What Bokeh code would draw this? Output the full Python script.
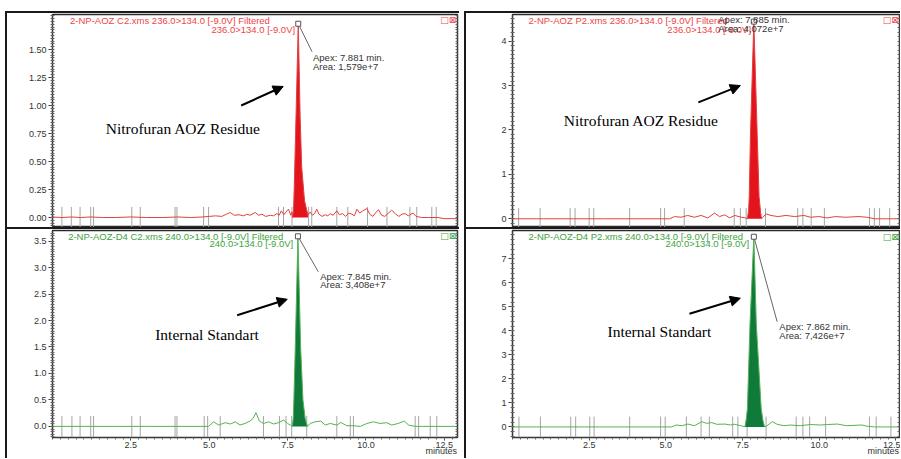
import numpy as np
from bokeh.plotting import figure
from bokeh.models import (Range1d, FixedTicker, PrintfTickFormatter, LinearAxis,
                          Label, Arrow, NormalHead, Spacer)
from bokeh.layouts import row, column
from bokeh.embed import file_html
from bokeh.resources import INLINE

# ---------------- data ----------------
# Top-left: 2-NP-AOZ C2 (236.0>134.0), MCounts vs minutes
TL_t = [0.0, 0.3, 0.6, 0.9, 1.2, 1.6, 2.0, 2.5, 3.0, 3.5, 4.0, 4.4, 4.8, 5.0, 5.2, 5.4, 5.55, 5.67, 5.8, 5.95,
        6.1, 6.2, 6.3, 6.4, 6.47, 6.58, 6.68, 6.8, 6.95, 7.05, 7.16, 7.23, 7.3, 7.38, 7.45, 7.53, 7.6, 7.64,
        7.66, 7.69, 7.71, 7.755, 7.84, 7.90, 7.95, 8.04, 8.15,
        8.22, 8.3, 8.37, 8.43, 8.5, 8.6, 8.7, 8.78, 8.86, 8.95, 9.07, 9.15, 9.25, 9.35, 9.45, 9.55, 9.63, 9.71,
        9.8, 9.9, 10.03, 10.12, 10.22, 10.3, 10.4, 10.5, 10.6, 10.7, 10.82, 10.95, 11.05, 11.15, 11.25, 11.35,
        11.5, 11.6, 11.78, 12.0, 12.3, 12.5, 12.95]
TL_v = [0.005, 0.0, 0.005, 0.0, 0.005, 0.0, 0.0, 0.005, 0.0, 0.0, 0.005, 0.0, 0.005, 0.01, 0.015, 0.01, 0.03, 0.045, 0.02, 0.025,
        0.015, 0.03, 0.02, 0.035, 0.045, 0.02, 0.03, 0.01, 0.02, 0.015, 0.035, 0.02, 0.06, 0.025, 0.05, 0.075, 0.02, 0.05,
        0.0, 0.07, 0.25, 0.75, 1.73, 0.9, 0.45, 0.15, 0.02,
        0.05, 0.02, 0.04, 0.075, 0.03, 0.01, 0.025, 0.015, 0.035, 0.02, 0.06, 0.025, 0.035, 0.01, 0.04, 0.03, 0.015, 0.075,
        0.04, 0.06, 0.08, 0.03, 0.01, 0.04, 0.07, 0.02, 0.01, 0.035, 0.065, 0.03, 0.01, 0.03, 0.035, 0.015,
        0.04, 0.01, 0.0, 0.0, 0.0, -0.01, -0.01]
TL_peak = (7.66, 8.15)
TL_marks = [0.30, 0.60, 0.88, 1.22, 1.31, 2.53, 2.80, 3.91, 3.97, 4.82, 4.98, 7.21, 7.37, 7.64, 8.17, 8.27,
            9.07, 9.42, 10.05, 10.67, 11.4, 11.62, 12.1, 12.24]

# Bottom-left: 2-NP-AOZ-D4 C2 (240.0>134.0)
BL_t = [0.0, 1.0, 2.0, 3.0, 4.0, 4.98, 5.14, 5.3, 5.51, 5.67, 5.83, 5.98, 6.14, 6.3, 6.4, 6.49, 6.6, 6.73, 6.9, 7.05,
        7.21, 7.37, 7.5, 7.6,
        7.65, 7.68, 7.70, 7.745, 7.83, 7.915, 7.99, 8.06, 8.13,
        8.22, 8.38, 8.56, 8.7, 8.86, 9.07, 9.2, 9.39, 9.6, 9.82, 10.03, 10.24, 10.45, 10.66, 10.82, 11.03, 11.22,
        11.36, 11.57, 11.8, 12.2, 12.95]
BL_v = [0.0, 0.0, 0.0, 0.0, 0.0, 0.0, 0.086, 0.025, 0.07, 0.045, 0.086, 0.025, 0.055, 0.1, 0.15, 0.26, 0.1, 0.055, 0.086, 0.045,
        0.07, 0.12, 0.055, 0.02,
        0.0, 0.15, 0.5, 1.5, 3.59, 1.5, 0.5, 0.15, 0.0,
        0.055, 0.086, 0.1, 0.025, 0.055, 0.025, 0.074, 0.012, 0.012, 0.0, 0.055, 0.086, 0.055, 0.07, 0.025, 0.055, 0.1,
        0.025, 0.0, 0.0, 0.0, 0.0]
BL_peak = (7.65, 8.13)
BL_marks = [0.30, 0.62, 0.88, 1.22, 1.31, 2.53, 2.80, 3.91, 3.97, 4.84, 4.95, 5.35, 6.73, 7.24, 7.45, 7.63,
            8.11, 9.07, 9.50, 9.60, 11.57, 11.68, 12.05, 12.26]

# Top-right: 2-NP-AOZ P2 (236.0>134.0)
TR_t = [0.0, 1.0, 2.0, 3.0, 4.0, 5.12, 5.28, 5.5, 5.71, 5.93, 6.15, 6.37, 6.59, 6.75, 6.92, 7.08, 7.25, 7.46, 7.6,
        7.66, 7.70, 7.72, 7.76, 7.87, 7.98, 8.04, 8.09, 8.12,
        8.27, 8.43, 8.65, 8.92, 9.2, 9.5, 9.72, 9.99, 10.26, 10.53, 10.86, 11.3, 11.55, 11.8, 12.2, 12.7]
TR_v = [0.0, 0.0, 0.0, 0.0, 0.0, 0.0, 0.05, 0.035, 0.075, 0.035, 0.075, 0.02, 0.13, 0.05, 0.09, 0.02, 0.075, 0.035, 0.02,
        0.0, 0.2, 0.5, 1.9, 4.44, 1.9, 0.5, 0.15, 0.0,
        0.11, 0.075, 0.05, 0.075, 0.05, 0.075, 0.035, 0.05, 0.02, 0.05, 0.035, 0.05, 0.035, 0.0, 0.0, 0.0]
TR_peak = (7.66, 8.12)
TR_marks = [0.2, 0.9, 1.88, 2.04, 2.5, 2.65, 3.82, 4.83, 4.96, 5.6, 7.23, 7.43, 7.62, 8.25, 9.3, 9.47, 9.74,
            10.17, 11.64, 11.8, 11.97, 12.3]

# Bottom-right: 2-NP-AOZ-D4 P2 (240.0>134.0)
BR_t = [0.0, 1.0, 2.0, 3.0, 4.0, 5.18, 5.34, 5.53, 5.72, 5.93, 6.18, 6.32, 6.5, 6.66, 6.93, 7.1, 7.24, 7.45, 7.55,
        7.58, 7.62, 7.66, 7.745, 7.87, 7.95, 8.11, 8.17, 8.22,
        8.3, 8.47, 8.63, 8.85, 9.06, 9.38, 9.71, 10.04, 10.26, 10.59, 10.9, 11.4, 11.56, 11.8, 12.2, 12.7]
BR_v = [0.0, 0.0, 0.0, 0.0, 0.0, 0.0, 0.08, 0.05, 0.12, 0.05, 0.22, 0.15, 0.18, 0.11, 0.12, 0.08, 0.11, 0.05, 0.02,
        0.0, 0.3, 0.76, 4.3, 7.92, 4.3, 0.76, 0.25, 0.0,
        0.05, 0.22, 0.11, 0.05, 0.08, 0.05, 0.1, 0.08, 0.1, 0.12, 0.05, 0.08, 0.03, 0.0, 0.0, 0.0]
BR_peak = (7.58, 8.22)
BR_marks = [0.21, 0.91, 1.90, 2.06, 2.52, 2.66, 3.82, 4.83, 4.98, 5.67, 6.15, 6.42, 7.18, 7.35, 7.65, 8.27,
            9.25, 9.47, 9.69, 10.21, 11.64, 11.86, 12.34]

TL_ticks = [0.0, 0.25, 0.5, 0.75, 1.0, 1.25, 1.5]
BL_ticks = [0.0, 0.5, 1.0, 1.5, 2.0, 2.5, 3.0, 3.5]
TR_ticks = [0, 1, 2, 3, 4]
BR_ticks = [0, 1, 2, 3, 4, 5, 6, 7]
X_ticks = [2.5, 5.0, 7.5, 10.0, 12.5]

TL_title = ["2-NP-AOZ C2.xms 236.0>134.0 [-9.0V] Filtered", "236.0>134.0 [-9.0V]"]
BL_title = ["2-NP-AOZ-D4 C2.xms 240.0>134.0 [-9.0V] Filtered", "240.0>134.0 [-9.0V]"]
TR_title = ["2-NP-AOZ P2.xms 236.0>134.0 [-9.0V] Filtered", "236.0>134.0 [-9.0V]"]
BR_title = ["2-NP-AOZ-D4 P2.xms 240.0>134.0 [-9.0V] Filtered", "240.0>134.0 [-9.0V]"]
TL_apex = ["Apex: 7.881 min.", "Area: 1,579e+7"]
TR_apex = ["Apex: 7.885 min.", "Area: 4,072e+7"]
BL_apex = ["Apex: 7.845 min.", "Area: 3,408e+7"]
BR_apex = ["Apex: 7.862 min.", "Area: 7,426e+7"]
X_label = "minutes"

SANS = "Liberation Sans"
SERIF = "Liberation Serif"
RED = dict(line="#e2403f", fill="#e3141c", text="#ee4549", chip="\u25a1")
GREEN = dict(line="#55b155", fill="#0f7a3a", text="#3ea33e", chip="\u25a0")
DARK = "#333333"


def style_axis(ax):
    ax.axis_line_color = "#3a3a3a"
    ax.major_tick_line_color = "#3a3a3a"
    ax.minor_tick_line_color = "#666666"
    ax.major_label_text_font = SANS
    ax.major_label_text_font_size = "9px"
    ax.major_label_text_color = DARK


def label(p, x, y, text, color=DARK, size="9.5px", font=SANS, align="left", baseline="middle"):
    p.add_layout(Label(x=x, y=y, text=text, text_color=color, text_font_size=size, text_font=font,
                       text_align=align, text_baseline=baseline))


def panel(width, height, x_end, y_rng, ticks, fmt, minor_step, mbl, mbr, mbt, mbb, bottom_axis,
          t, v, peak, marks, col):
    p = figure(width=width, height=height, x_range=Range1d(0, x_end), y_range=Range1d(*y_rng),
               output_backend="svg", toolbar_location=None,
               x_axis_location="below" if bottom_axis else None,
               min_border_left=mbl, min_border_right=mbr, min_border_top=mbt, min_border_bottom=mbb)
    p.grid.visible = False
    p.outline_line_color = "#2a2a2a"
    p.outline_line_width = 1.5
    p.background_fill_color = "white"
    p.border_fill_color = "white"

    minors = list(np.arange(0.0, y_rng[1], minor_step)) + list(-np.arange(minor_step, -y_rng[0], minor_step))
    ya = p.yaxis[0]
    ya.ticker = FixedTicker(ticks=ticks, minor_ticks=minors)
    ya.formatter = PrintfTickFormatter(format=fmt)
    style_axis(ya)
    ya.major_tick_out = 4
    ya.major_tick_in = 0
    ya.minor_tick_out = 2
    ya.minor_tick_in = 2
    ya.major_label_standoff = 2

    # right-hand ruler: minor ticks only, no labels
    ra = LinearAxis(ticker=FixedTicker(ticks=[], minor_ticks=minors), major_label_standoff=0,
                    major_tick_in=0, major_tick_out=0, minor_tick_in=2, minor_tick_out=0)
    style_axis(ra)
    p.add_layout(ra, "right")

    if bottom_axis:
        xa = p.xaxis[0]
        xa.ticker = FixedTicker(ticks=X_ticks, minor_ticks=list(np.arange(0.0, 13.0, 0.25)))
        xa.formatter = PrintfTickFormatter(format="%.1f")
        style_axis(xa)
        xa.major_tick_out = 3
        xa.major_tick_in = 0
        xa.minor_tick_out = 2
        xa.minor_tick_in = 0
        xa.major_label_standoff = 1
        # label is centred on the axis end; trailing no-break spaces move the word inside
        xa.axis_label = X_label + "\u00a0" * 13
        xa.axis_label_text_font = SANS
        xa.axis_label_text_font_size = "9px"
        xa.axis_label_text_font_style = "normal"
        xa.axis_label_text_color = DARK
        xa.axis_label_standoff = -5
        xa.axis_label_align = "end"

    span = y_rng[1] - y_rng[0]
    p.segment(x0=marks, y0=[y_rng[0]] * len(marks), x1=marks, y1=[0.05 * span] * len(marks),
              line_color="#a5a5a5", line_width=1)

    ta = np.array(t)
    va = np.array(v)
    sel = (ta >= peak[0]) & (ta <= peak[1])
    p.varea(x=ta[sel], y1=np.zeros(sel.sum()), y2=va[sel], fill_color=col["fill"])
    p.line(ta, va, line_color=col["line"], line_width=1)
    return p, ta, va


def decorate(p, ta, va, col, title, tpos, apex, apos, leader, big, bpos, arrow, mc, icon_x, chip):
    label(p, tpos[0], tpos[1], title[0], color=col["text"])
    label(p, tpos[2], tpos[3], title[1], color=col["text"], align="right")
    i = int(np.argmax(va))
    if leader is not None:
        p.line([ta[i], leader[0]], [va[i], leader[1]], line_color="#666666", line_width=1)
    p.scatter([ta[i]], [va[i]], marker="square", size=5, fill_color="white", line_color="#555555")
    label(p, apos[0], apos[1], apex[0])
    label(p, apos[0], apos[2], apex[1])
    label(p, bpos[0], bpos[1], big, color="black", size="15.5px", font=SERIF, align="center")
    p.add_layout(Arrow(end=NormalHead(size=10, fill_color="black", line_color="black"),
                       x_start=arrow[0], y_start=arrow[1], x_end=arrow[2], y_end=arrow[3],
                       line_color="black", line_width=2))
    label(p, mc[0], mc[1], "MCounts", align="right")
    label(p, icon_x, mc[1], "\u25a1\u22a0", color=col["text"], size="9px", font="DejaVu Sans", align="right")
    label(p, chip[0], chip[1], col["chip"], color=col["fill"], size="10px", font="DejaVu Sans", align="left")


# ---- panels ----
tl, ta, va = panel(452, 214, 12.92, (-0.089, 1.8125), TL_ticks, "%.2f", 0.025, 45, 2, 1, 0, False,
                   TL_t, TL_v, TL_peak, TL_marks, RED)
decorate(tl, ta, va, RED, TL_title, (0.56, 1.76, 7.74, 1.68), TL_apex, (8.31, 1.43, 1.35), (8.28, 1.48),
         "Nitrofuran AOZ Residue", (4.17, 0.795), (6.02, 1.0, 7.36, 1.17), (-0.1, 1.76), 12.88, (-1.42, 0.86))

bl, ta, va = panel(452, 229, 12.92, (-0.21, 3.70), BL_ticks, "%.1f", 0.05, 45, 2, 1, 17, True,
                   BL_t, BL_v, BL_peak, BL_marks, GREEN)
decorate(bl, ta, va, GREEN, BL_title, (0.5, 3.585, 7.68, 3.45), BL_apex, (8.54, 2.84, 2.68), (8.48, 2.92),
         "Internal Standart", (4.93, 1.735), (5.89, 2.10, 7.49, 2.40), (-0.1, 3.60), 12.88, (-1.42, 1.79))

tr, ta, va = panel(434, 214, 12.62, (-0.196, 4.60), TR_ticks, "%d", 0.1, 46, 1, 1, 0, False,
                   TR_t, TR_v, TR_peak, TR_marks, RED)
decorate(tr, ta, va, RED, TR_title, (0.52, 4.47, 7.78, 4.27), TR_apex, (6.71, 4.49, 4.29), None,
         "Nitrofuran AOZ Residue", (4.2, 2.21), (6.06, 2.62, 7.43, 3.0), (-0.07, 4.47), 12.6, (-1.42, 2.19))

br, ta, va = panel(434, 229, 12.62, (-0.44, 8.18), BR_ticks, "%d", 0.2, 46, 1, 1, 17, True,
                   BR_t, BR_v, BR_peak, BR_marks, GREEN)
decorate(br, ta, va, GREEN, BR_title, (0.52, 7.93, 7.72, 7.64), BR_apex, (8.7, 4.18, 3.81), (8.63, 4.38),
         "Internal Standart", (4.79, 3.97), (5.77, 4.71, 7.43, 5.36), (-0.07, 7.89), 12.6, (-1.42, 3.97))

BAR = {"background-color": "#1a1a1a"}


def block(top, bottom, w, lead):
    return row(
        Spacer(width=lead, height=458),
        column(
            Spacer(width=w + 2, height=11),
            Spacer(width=w + 2, height=2, styles=BAR),
            row(Spacer(width=2, height=445, styles=BAR),
                column(top, Spacer(width=w, height=2, styles=BAR), bottom)),
        ),
    )


root = row(block(tl, bl, 452, 5), block(tr, br, 434, 5))

open("out.html", "w").write(file_html(root, INLINE))
